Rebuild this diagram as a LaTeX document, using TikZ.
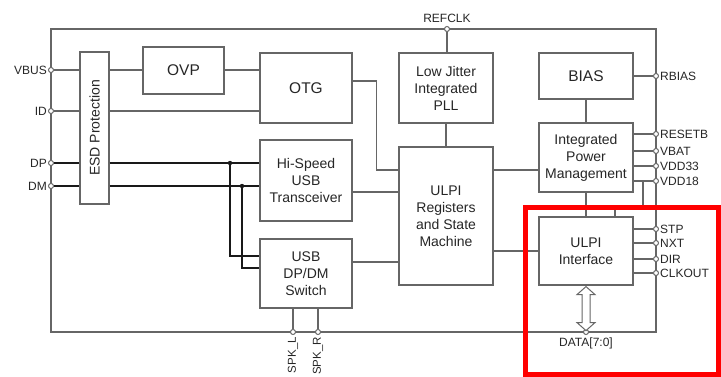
\documentclass[tikz,border=0pt]{standalone}
\usepackage{fontspec}
\setmainfont{Liberation Sans}
\usetikzlibrary{positioning}
\tikzset{
    blk/.style={rectangle, draw=black!60, line width=1.2pt, fill=white, align=center, text=black!85, font=\fontsize{14}{17}\selectfont},
    bigblk/.style={blk, font=\fontsize{15.5}{18}\selectfont},
    pinc/.style={circle, draw=black!60, line width=1pt, fill=white, inner sep=0pt, minimum size=5pt},
    pinlbl/.style={text=black!85, inner sep=1pt, font=\fontsize{12}{14}\selectfont},
    sig/.style={draw=black!60, line width=1.2pt},
    dsig/.style={draw=black!90, line width=1.2pt},
}
\begin{document}
\begin{tikzpicture}[x=1pt, y=-1pt]
    \useasboundingbox (0,0) rectangle (721,377);
    % chip outline
    \draw[sig] (51,29) rectangle (656,332);

    % pins
    \node[pinc, label={[pinlbl]left:VBUS}] (vbus) at (51,70) {};
    \node[pinc, label={[pinlbl]left:ID}] (id) at (51,111) {};
    \node[pinc, label={[pinlbl]left:DP}] (dp) at (51,163) {};
    \node[pinc, label={[pinlbl]left:DM}] (dm) at (51,186) {};
    \node[pinc, label={[pinlbl, label distance=2pt]above:REFCLK}] (refclk) at (447,29) {};
    \node[pinc, label={[pinlbl]right:RBIAS}] (rbias) at (656,76) {};
    \node[pinc, label={[pinlbl]right:RESETB}] (resetb) at (656,134) {};
    \node[pinc, label={[pinlbl]right:VBAT}] (vbat) at (656,151) {};
    \node[pinc, label={[pinlbl]right:VDD33}] (vdd33) at (656,166) {};
    \node[pinc, label={[pinlbl]right:VDD18}] (vdd18) at (656,181) {};
    \node[pinc, label={[pinlbl]right:STP}] (stp) at (656,229) {};
    \node[pinc, label={[pinlbl]right:NXT}] (nxt) at (656,243) {};
    \node[pinc, label={[pinlbl]right:DIR}] (dir) at (656,259) {};
    \node[pinc, label={[pinlbl]right:CLKOUT}] (clkout) at (656,273) {};
    \node[pinc] (spkl) at (293,332) {};
    \node[pinc] (spkr) at (318,332) {};
    \node[pinc, label={[pinlbl, label distance=2pt]below:DATA[7:0]}] (data) at (586,332) {};
    \node[pinlbl, rotate=90, anchor=east, font=\fontsize{11.5}{14}\selectfont] (spkltxt) at ([yshift=-1pt]spkl.south) {SPK\_L};
    \node[pinlbl, rotate=90, anchor=east, font=\fontsize{11.5}{14}\selectfont] (spkrtxt) at ([yshift=-1pt]spkr.south) {SPK\_R};

    % blocks
    \node[blk, minimum width=29, minimum height=152] (esd) at (94.5,128) {};
    \node[rotate=90, text=black!85, font=\fontsize{14}{17}\selectfont] (esdtxt) at (esd) {ESD Protection};
    \node[bigblk, minimum width=81, minimum height=47] (ovp) at (183.5,70.5) {OVP};
    \node[bigblk, minimum width=92, minimum height=70] (otg) at (306,88) {OTG};
    \node[blk, minimum width=94, minimum height=70] (pll) at (446,88) {Low Jitter\\Integrated\\PLL};
    \node[blk, minimum width=92, minimum height=81] (xcvr) at (306,180.5) {Hi-Speed\\USB\\Transceiver};
    \node[blk, minimum width=92, minimum height=69] (sw) at (306,273.5) {USB\\DP/DM\\Switch};
    \node[blk, minimum width=94, minimum height=138] (reg) at (446,216) {ULPI\\Registers\\and State\\Machine};
    \node[bigblk, minimum width=94, minimum height=46] (bias) at (586,76) {BIAS};
    \node[blk, minimum width=94, minimum height=69] (pwr) at (586,157.5) {Integrated\\Power\\Management};
    \node[blk, minimum width=94, minimum height=68] (ifc) at (586,251) {ULPI\\Interface};

    % left side
    \draw[sig] (vbus) -- (esd.west |- vbus);
    \draw[sig] (esd.east |- vbus) -- (ovp.west |- vbus);
    \draw[sig] (ovp.east |- vbus) -- (otg.west |- vbus);
    \draw[sig] (id) -- (esd.west |- id);
    \draw[sig] (esd.east |- id) -- (otg.west |- id);
    \draw[dsig] (dp) -- (esd.west |- dp);
    \draw[dsig] (esd.east |- dp) -- (xcvr.west |- dp);
    \draw[dsig] (dm) -- (esd.west |- dm);
    \draw[dsig] (esd.east |- dm) -- (xcvr.west |- dm);
    \coordinate (jdp) at (230,163);
    \coordinate (jdm) at (242,186);
    \draw[dsig] (jdp) |- (sw.west |- 0,256);
    \draw[dsig] (jdm) |- (sw.west |- 0,268);
    \fill[black!90] (jdp) circle (2.2);
    \fill[black!90] (jdm) circle (2.2);
    \draw[sig] (sw.south -| spkl) -- (spkl);
    \draw[sig] (sw.south -| spkr) -- (spkr);

    % middle
    \draw[sig] ([yshift=7pt]otg.east) -- ++(24,0) |- (reg.west |- 0,170);
    \draw[sig] (xcvr.east |- 0,192) -- (reg.west |- 0,192);
    \draw[sig] (sw.east |- 0,262) -- (reg.west |- 0,262);
    \draw[sig] (refclk) -- (refclk |- pll.north);
    \draw[sig] (pll.south) -- (reg.north);
    \draw[sig] (reg.east |- 0,170) -- (pwr.west |- 0,170);
    \draw[sig] (reg.east |- ifc.west) -- (ifc.west);

    % right side
    \draw[sig] (bias.east) -- (rbias);
    \draw[sig] (bias.south) -- (pwr.north);
    \draw[sig] (pwr.south) -- (ifc.north);
    \draw[sig] (pwr.east |- resetb) -- (resetb);
    \draw[sig] (pwr.east |- vbat) -- (vbat);
    \draw[sig] (pwr.east |- vdd33) -- (vdd33);
    \draw[sig] (pwr.east |- vdd18) -- (vdd18);
    \draw[sig] ([xshift=-13pt]vdd18.center) -- ++(0,26) -| ([xshift=29pt]ifc.north);
    \draw[sig] (ifc.east |- stp) -- (stp);
    \draw[sig] (ifc.east |- nxt) -- (nxt);
    \draw[sig] (ifc.east |- dir) -- (dir);
    \draw[sig] (ifc.east |- clkout) -- (clkout);

    % data bus arrow
    \draw[sig, line width=1pt, fill=white] ([yshift=-1pt]ifc.south) -- ++(9,8) -- ++(-5,0) -- ++(0,28) -- ++(5,0)
        -- ++(-9,8) -- ++(-9,-8) -- ++(5,0) -- ++(0,-28) -- ++(-5,0) -- cycle;

    % highlight
    \draw[red, line width=5pt] (525.5,207.5) rectangle (718.5,374.5);
\end{tikzpicture}
\end{document}
